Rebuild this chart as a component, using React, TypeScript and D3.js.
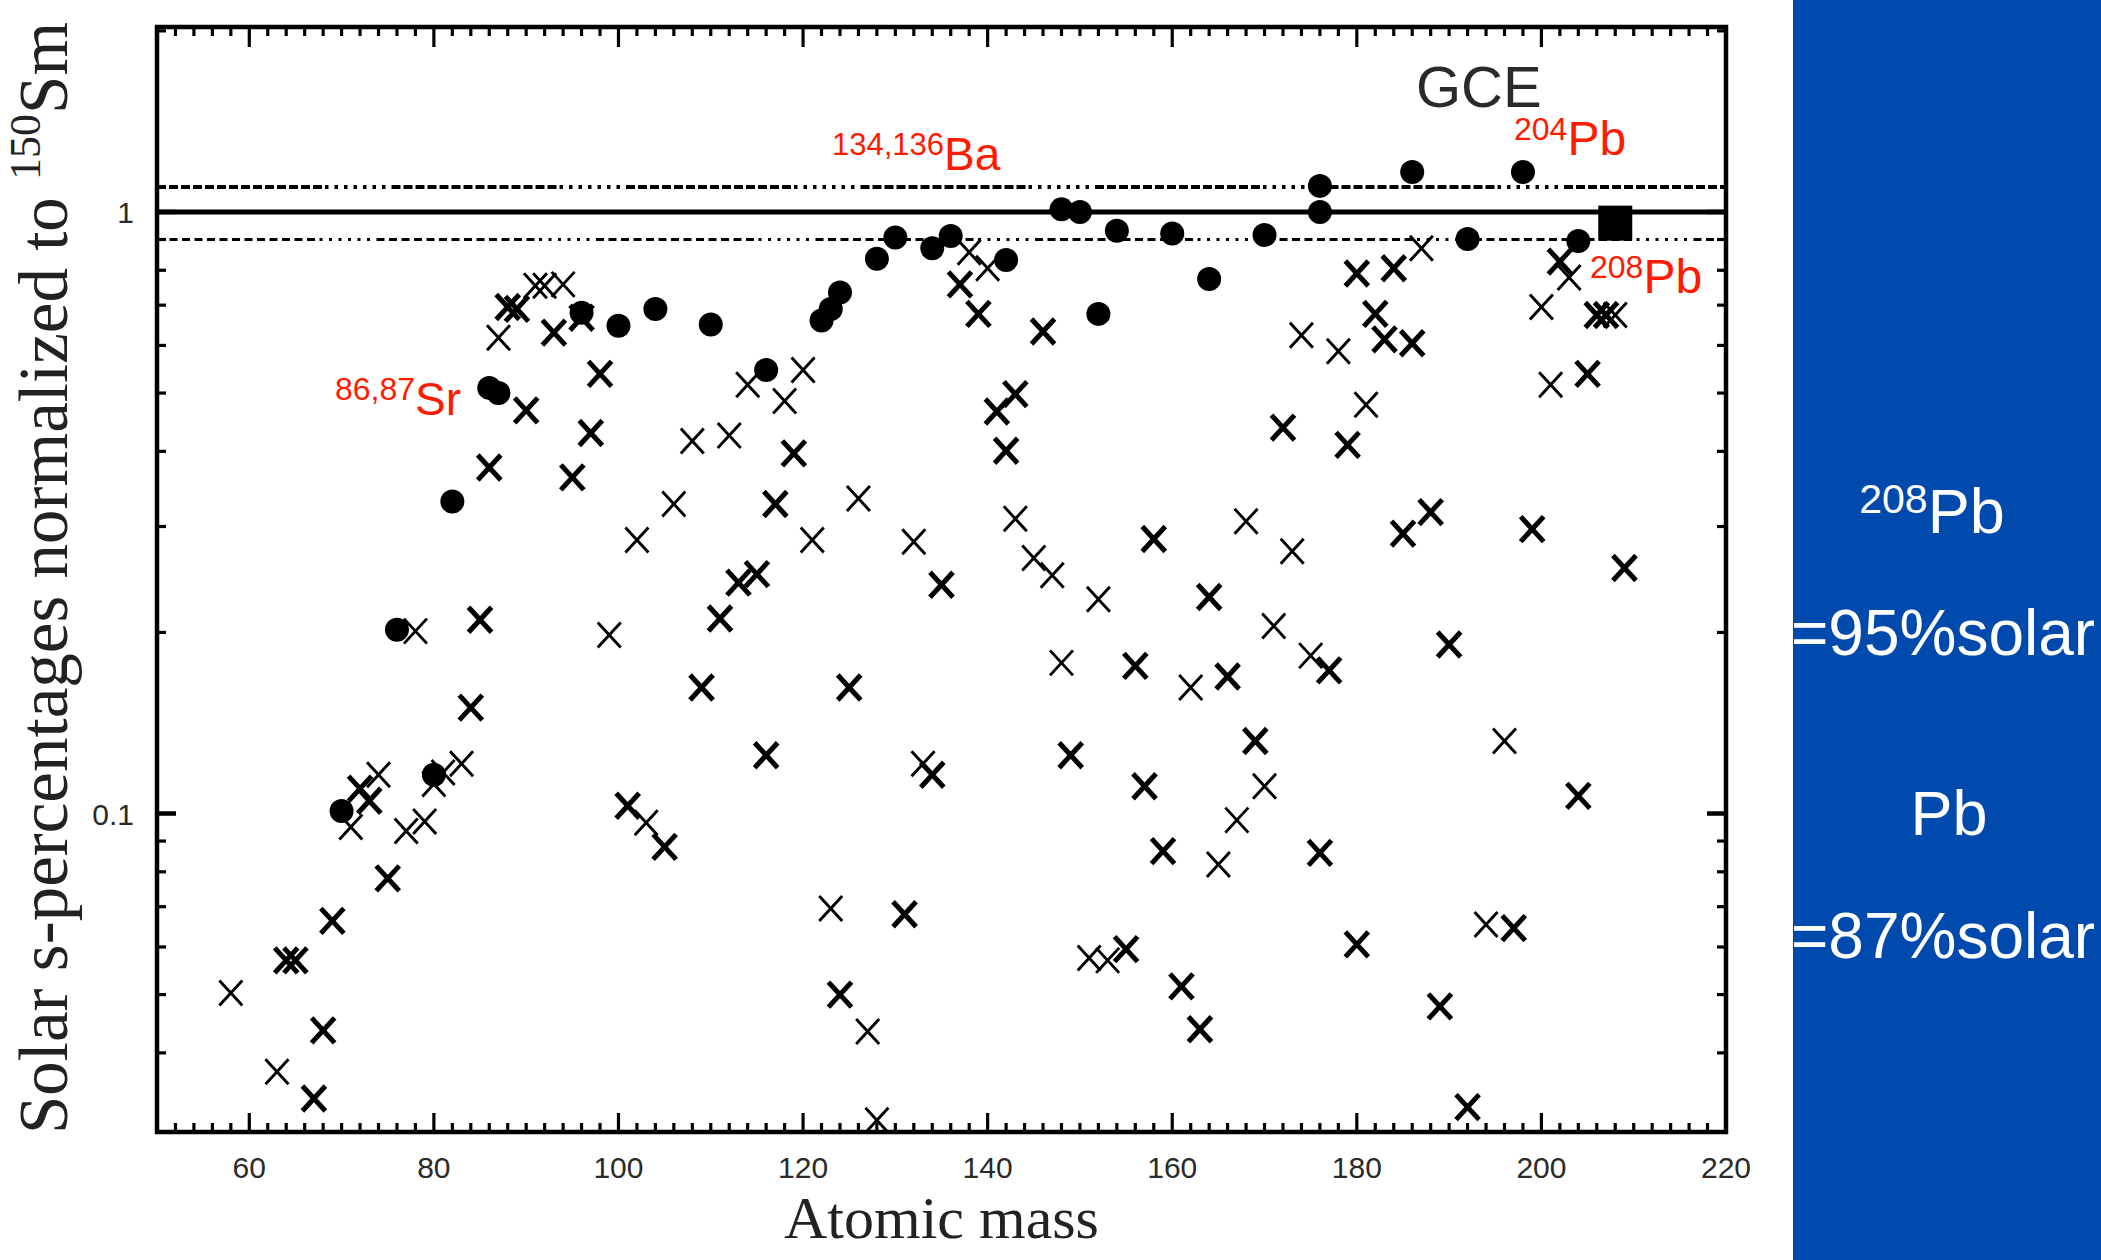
import React from "react";
import * as d3 from "d3";

// ---------------- data ----------------
const xDomain = [50, 220];
const yDomain = [0.02955, 2.03];

const xMajorTicks = [60, 80, 100, 120, 140, 160, 180, 200, 220];
const yMajorTicks = [0.1, 1];
const yMajorLabels = ["0.1", "1"];
const yMinorTicks = [0.04, 0.05, 0.06, 0.07, 0.08, 0.09, 0.2, 0.3, 0.4, 0.5, 0.6, 0.7, 0.8, 0.9, 2];

// reference lines (solar, +-10%)
const refSolar = 1;
const refUpper = 1.1;
const refLower = 0.9;

// filled circles
const circleMass = [70, 76, 80, 82, 86, 87, 96, 100, 104, 110, 116, 122, 123, 124, 128, 130, 134, 136, 142, 148, 150, 152, 154, 160, 164, 170, 176, 176, 186, 192, 198, 204];
const circleValue = [0.101, 0.202, 0.116, 0.33, 0.51, 0.5, 0.68, 0.647, 0.69, 0.65, 0.546, 0.66, 0.69, 0.735, 0.836, 0.907, 0.87, 0.912, 0.832, 1.01, 1.0, 0.677, 0.931, 0.921, 0.774, 0.916, 1.105, 1.0, 1.165, 0.902, 1.165, 0.895];

// 208Pb (square)
const squareMass = [208];
const squareValue = [0.96];

// crosses, heavy stroke
const boldCrossMass = [64, 65, 67, 68, 69, 72, 73, 75, 84, 85, 86, 88, 89, 90, 93, 95, 96, 97, 98, 101, 105, 109, 111, 113, 115, 116, 117, 119, 124, 125, 131, 134, 135, 137, 139, 141, 142, 143, 146, 149, 155, 156, 157, 158, 159, 161, 163, 164, 166, 169, 172, 176, 177, 179, 180, 180, 182, 183, 184, 185, 186, 188, 189, 190, 192, 197, 199, 202, 204, 205, 206, 207, 209];
const boldCrossValue = [0.057, 0.057, 0.0336, 0.0436, 0.0663, 0.11, 0.105, 0.078, 0.15, 0.21, 0.376, 0.695, 0.69, 0.468, 0.63, 0.362, 0.667, 0.429, 0.538, 0.103, 0.088, 0.162, 0.211, 0.242, 0.25, 0.125, 0.327, 0.397, 0.05, 0.162, 0.068, 0.116, 0.24, 0.758, 0.677, 0.466, 0.401, 0.498, 0.633, 0.125, 0.0595, 0.176, 0.111, 0.286, 0.0866, 0.0516, 0.0438, 0.229, 0.169, 0.132, 0.438, 0.086, 0.173, 0.41, 0.79, 0.0606, 0.677, 0.614, 0.806, 0.292, 0.605, 0.317, 0.0478, 0.191, 0.0325, 0.0645, 0.297, 0.827, 0.107, 0.538, 0.674, 0.674, 0.256];

// crosses, light stroke
const thinCrossMass = [58, 63, 71, 74, 77, 78, 79, 80, 81, 83, 87, 91, 92, 94, 99, 102, 103, 106, 108, 112, 114, 118, 120, 121, 123, 126, 127, 128, 132, 133, 138, 140, 143, 145, 147, 148, 151, 152, 153, 162, 165, 167, 168, 170, 171, 173, 174, 175, 178, 181, 187, 194, 196, 200, 201, 203, 208];
const thinCrossValue = [0.0503, 0.0372, 0.095, 0.116, 0.0935, 0.201, 0.097, 0.112, 0.117, 0.121, 0.618, 0.754, 0.754, 0.758, 0.198, 0.285, 0.0965, 0.327, 0.416, 0.425, 0.516, 0.485, 0.546, 0.285, 0.0695, 0.334, 0.0434, 0.0309, 0.283, 0.121, 0.857, 0.806, 0.309, 0.266, 0.249, 0.178, 0.0575, 0.227, 0.057, 0.162, 0.0823, 0.0975, 0.306, 0.111, 0.205, 0.273, 0.624, 0.183, 0.587, 0.478, 0.87, 0.0654, 0.132, 0.695, 0.516, 0.778, 0.674];

// ---------------- component ----------------
const SANS = "'Liberation Sans', Arial, Helvetica, sans-serif";
const SERIF = "'Liberation Serif', 'Times New Roman', serif";

export default function App() {
  const W = 2101;
  const H = 1260;
  const left = 157, right = 1726, top = 27, bottom = 1132;

  const x = d3.scaleLinear().domain(xDomain).range([left, right]);
  const y = d3.scaleLog().domain(yDomain).range([bottom, top]);

  const xMinor = d3.range(52, 220, 2).filter((v) => v % 20 !== 0);

  const upperDash = [...Array(14).fill("9,3"), ...Array(7).fill("3.5,6")].join(",");
  const lowerDash = [...Array(13).fill("8,4.5"), ...Array(6).fill("3,6.5")].join(",");

  const crossPath = (w: number, h: number) => `M${-w},${-h}L${w},${h}M${-w},${h}L${w},${-h}`;

  const circles = d3.zip(circleMass, circleValue);
  const bold = d3.zip(boldCrossMass, boldCrossValue);
  const thin = d3.zip(thinCrossMass, thinCrossValue);
  const squares = d3.zip(squareMass, squareValue);

  const red = "#ff1a00";

  return (
    <svg
      width={W}
      height={H}
      viewBox={`0 0 ${W} ${H}`}
      style={{ position: "absolute", left: 0, top: 0, background: "#fff" }}
    >
      <rect x={0} y={0} width={W} height={H} fill="#fff" />

      {/* reference lines */}
      <line x1={left} x2={right} y1={y(refUpper)} y2={y(refUpper)} stroke="#000" strokeWidth={4} strokeDasharray={upperDash} />
      <line x1={left} x2={right} y1={y(refSolar)} y2={y(refSolar)} stroke="#000" strokeWidth={5} />
      <line x1={left} x2={right} y1={y(refLower)} y2={y(refLower)} stroke="#000" strokeWidth={2.8} strokeDasharray={lowerDash} />

      {/* crosses */}
      <g stroke="#000" fill="none" strokeLinecap="butt">
        {thin.map(([m, v], i) => (
          <path key={"t" + i} d={crossPath(11.5, 12.5)} transform={`translate(${x(m)},${y(v)})`} strokeWidth={2.9} />
        ))}
        {bold.map(([m, v], i) => (
          <path key={"b" + i} d={crossPath(11.5, 12.5)} transform={`translate(${x(m)},${y(v)})`} strokeWidth={5} />
        ))}
      </g>

      {/* circles */}
      <g fill="#000">
        {circles.map(([m, v], i) => (
          <circle key={"c" + i} cx={x(m)} cy={y(v)} r={12} />
        ))}
        {squares.map(([m, v], i) => (
          <rect key={"s" + i} x={x(m) - 17} y={y(v) - 17} width={34} height={35} />
        ))}
      </g>

      {/* frame */}
      <rect x={left} y={top} width={right - left} height={bottom - top} fill="none" stroke="#000" strokeWidth={4.5} />

      {/* ticks */}
      <g stroke="#000" strokeWidth={3.2}>
        {xMajorTicks.map((v) => (
          <g key={"xM" + v}>
            <line x1={x(v)} x2={x(v)} y1={bottom} y2={bottom - 19} />
            <line x1={x(v)} x2={x(v)} y1={top} y2={top + 20} />
          </g>
        ))}
        {xMinor.map((v) => (
          <g key={"xm" + v}>
            <line x1={x(v)} x2={x(v)} y1={bottom} y2={bottom - 9} />
            <line x1={x(v)} x2={x(v)} y1={top} y2={top + 9} />
          </g>
        ))}
        {yMajorTicks.map((v) => (
          <g key={"yM" + v}>
            <line x1={left} x2={left + 19} y1={y(v)} y2={y(v)} strokeWidth={4.5} />
            <line x1={right} x2={right - 19} y1={y(v)} y2={y(v)} strokeWidth={4.5} />
          </g>
        ))}
        {yMinorTicks.map((v) => (
          <g key={"ym" + v}>
            <line x1={left} x2={left + 9} y1={y(v)} y2={y(v)} />
            <line x1={right} x2={right - 9} y1={y(v)} y2={y(v)} />
          </g>
        ))}
      </g>

      {/* tick labels */}
      <g fontFamily={SANS} fontSize={30} fill="#2a2a2a">
        {xMajorTicks.map((v) => (
          <text key={"xl" + v} x={x(v)} y={bottom + 46} textAnchor="middle">
            {String(v)}
          </text>
        ))}
        {yMajorTicks.map((v, i) => (
          <text key={"yl" + v} x={134} y={y(v) + 11} textAnchor="end">
            {yMajorLabels[i]}
          </text>
        ))}
      </g>

      {/* axis titles */}
      <text x={(left + right) / 2} y={1238} textAnchor="middle" fontFamily={SERIF} fontSize={60} fill="#222">
        Atomic mass
      </text>
      <text
        transform={`translate(67,578) rotate(-90)`}
        textAnchor="middle"
        fontFamily={SERIF}
        fontSize={69}
        fill="#222"
      >
        <tspan>Solar s-percentages normalized to </tspan>
        <tspan fontSize={44} dy={-27}>150</tspan>
        <tspan dy={27}>Sm</tspan>
      </text>

      {/* in-plot annotations */}
      <text x={1416} y={107} fontFamily={SANS} fontSize={58} fill="#2a2a2a">GCE</text>
      <g fontFamily={SANS} fill={red}>
        <text x={335} y={400} fontSize={32}>
          86,87<tspan fontSize={46} dy={15}>Sr</tspan>
        </text>
        <text x={832} y={155} fontSize={31}>
          134,136<tspan fontSize={46} dy={15}>Ba</tspan>
        </text>
        <text x={1514} y={140} fontSize={32}>
          204<tspan fontSize={48} dy={15}>Pb</tspan>
        </text>
        <text x={1590} y={278} fontSize={32}>
          208<tspan fontSize={48} dy={15}>Pb</tspan>
        </text>
      </g>

      {/* side panel */}
      <rect x={1793} y={0} width={W - 1793} height={H} fill="#004aad" />
      <g fontFamily={SANS} fill="#fff" textAnchor="middle">
        <text x={1932} y={533} fontSize={63}>
          <tspan fontSize={41} dy={-20}>208</tspan>
          <tspan dy={20}>Pb</tspan>
        </text>
        <text x={1943} y={655} fontSize={64}>=95%solar</text>
        <text x={1949} y={835} fontSize={63}>Pb</text>
        <text x={1943} y={958} fontSize={64}>=87%solar</text>
      </g>
    </svg>
  );
}
